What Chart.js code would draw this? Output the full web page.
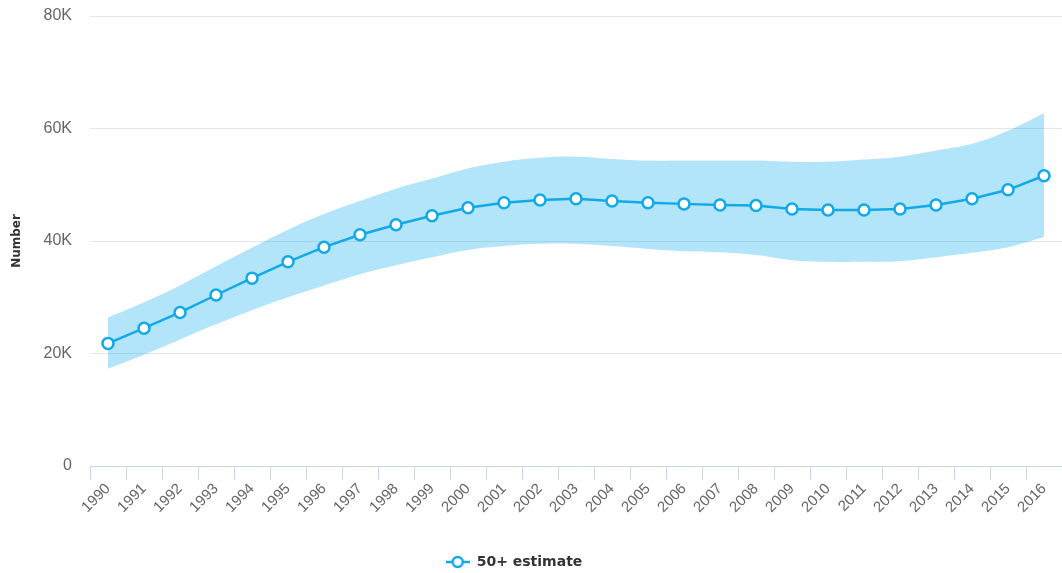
<!DOCTYPE html>
<html><head><meta charset="utf-8">
<script src="https://cdn.jsdelivr.net/npm/chart.js@4/dist/chart.umd.min.js"></script>
<style>html,body{margin:0;padding:0;background:#fff}#wrap{width:1062px;height:573px}</style>
</head><body><div id="wrap"><canvas id="c" width="1062" height="573"></canvas></div>
<script>
const years = ['1990','1991','1992','1993','1994','1995','1996','1997','1998','1999','2000','2001','2002','2003','2004','2005','2006','2007','2008','2009','2010','2011','2012','2013','2014','2015','2016'];
const estimate = [21800,24500,27300,30400,33400,36300,38900,41100,42900,44500,45900,46800,47300,47500,47100,46800,46600,46400,46300,45700,45500,45500,45700,46400,47500,49100,51600];
const upperBound = [26400,29100,32100,35500,38800,42000,44800,47100,49300,51100,52900,54100,54800,55000,54600,54300,54300,54300,54300,54100,54100,54500,55000,56100,57300,59600,62700];
const lowerBound = [17300,19800,22500,25200,27700,30000,32100,34100,35700,37100,38400,39100,39500,39500,39100,38600,38200,38000,37500,36600,36300,36300,36400,37100,37900,38900,40700];
const yTicks = [0,20000,40000,60000,80000];
const seriesName = '50+ estimate';

const LINE = '#12a9e8';
// legend symbol: line with hollow circle
const sym = document.createElement('canvas');
sym.width = 24; sym.height = 14;
(function(){const g=sym.getContext('2d');g.strokeStyle=LINE;g.lineWidth=2.5;g.beginPath();g.moveTo(0,7);g.lineTo(24,7);g.stroke();g.beginPath();g.arc(12,7,5,0,Math.PI*2);g.fillStyle='#fff';g.fill();g.stroke();})();

const legendShift = {
  id: 'legendShift',
  afterLayout(chart) { if (chart.legend) { chart.legend.right -= 44; } }
};

new Chart(document.getElementById('c'), {
  type: 'line',
  plugins: [legendShift],
  data: {
    labels: years,
    datasets: [
      {label: seriesName, data: estimate, borderColor: LINE, borderWidth: 2.5, backgroundColor:'#fff',
       pointRadius: 5.5, pointBorderWidth: 2.5, pointBackgroundColor: '#fff', pointBorderColor: LINE, tension: 0, fill: false, pointStyle: 'circle'},
      {label: 'upper', data: upperBound, borderWidth: 0, pointRadius: 0, tension: 0.4, fill: '+1', backgroundColor: 'rgba(0,170,235,0.3)', borderColor:'rgba(0,0,0,0)'},
      {label: 'lower', data: lowerBound, borderWidth: 0, pointRadius: 0, tension: 0.4, fill: false, borderColor:'rgba(0,0,0,0)'}
    ]
  },
  options: {
    responsive: false, animation: false,
    layout: {autoPadding: false, padding: {top: 0, right: 0, bottom: -6, left: 10}},
    plugins: {
      tooltip: {enabled: false},
      legend: {position: 'bottom', labels: {usePointStyle: true, pointStyleWidth: 24, color: '#333',
        font: {family: 'DejaVu Sans', size: 14, weight: 'bold'}, padding: 6,
        generateLabels: ch => [{text: seriesName, pointStyle: sym, datasetIndex: 0, fontColor:'#333', lineWidth:0, strokeStyle:'rgba(0,0,0,0)', fillStyle:'rgba(0,0,0,0)'}]}}
    },
    scales: {
      x: {offset: true,
        grid: {offset: true, drawOnChartArea: false, drawTicks: true, tickLength: 14, color: '#ccd6eb'},
        border: {color: '#ccd6eb'},
        ticks: {color: '#666', font: {family: 'Liberation Sans', size: 15}, maxRotation: 45, minRotation: 45, autoSkip: false, padding: 0},
        afterFit: s => { s.height = 83; s.paddingRight = 0; s.paddingLeft = 0; }
      },
      y: {min: 0, max: 80000,
        afterBuildTicks: s => { s.ticks = yTicks.map(v => ({value: v})); },
        grid: {color: '#e6e6e6', drawTicks: false},
        border: {display: false},
        ticks: {color: '#666', font: {family: 'Liberation Sans', size: 16}, padding: 18,
          callback: v => v === 0 ? '0' : (v/1000) + 'K'},
        title: {display: true, text: 'Number', color: '#333', font: {family: 'DejaVu Sans', size: 12, weight: 'bold'}, padding: 0},
        afterFit: s => { s.width = 80; s.paddingTop = 16; s.paddingBottom = 9; }
      }
    }
  }
});
</script></body></html>
